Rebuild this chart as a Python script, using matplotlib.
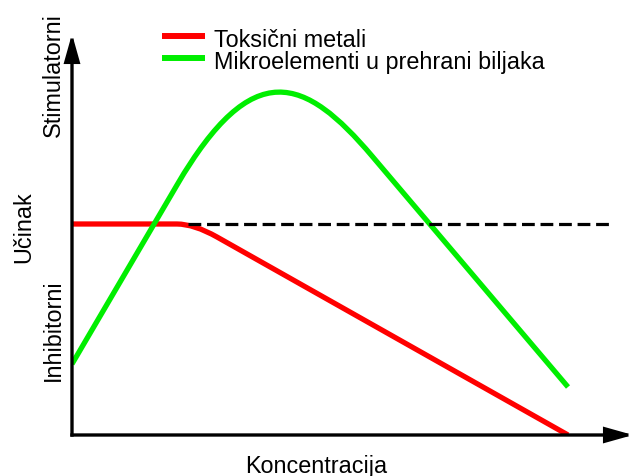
import matplotlib
matplotlib.use("Agg")
import matplotlib.pyplot as plt
from matplotlib.lines import Line2D
from matplotlib.path import Path
from matplotlib.patches import PathPatch

plt.rcParams['font.family'] = ['Liberation Sans', 'DejaVu Sans']

# koncentracija (x) i ucinak (y), ocitano sa slike; cvorovi krivulja
toks_x = [0, 105, 122, 145, 496]
toks_y = [211, 211, 211, 198, 0]
toks_codes = [Path.MOVETO, Path.LINETO, Path.CURVE3, Path.CURVE3, Path.LINETO]

mikro_x = [0, 105, 181, 233, 300, 496]
mikro_y = [71, 250, 380, 358, 279, 48]
mikro_codes = [Path.MOVETO, Path.LINETO, Path.CURVE4, Path.CURVE4, Path.CURVE4, Path.LINETO]

prag_x = [116, 539]
prag_y = [211, 211]

labels = ["Toksični metali", "Mikroelementi u prehrani biljaka"]
colors = ["#ff0000", "#00ee00"]

W, H = 631, 477
fig = plt.figure(figsize=(W / 100, H / 100), dpi=100)
ax = fig.add_axes([72 / W, 41 / H, (W - 72) / W, 436 / H])
ax.set_xlim(0, W - 72)
ax.set_ylim(0, 436)
ax.axis("off")

ax.plot(prag_x, prag_y, color="black", lw=2.3, dashes=(4.0, 1.8), solid_capstyle="butt")
for xs, ys, codes, c in [(toks_x, toks_y, toks_codes, colors[0]),
                         (mikro_x, mikro_y, mikro_codes, colors[1])]:
    p = Path(list(zip(xs, ys)), codes)
    ax.add_patch(PathPatch(p, facecolor="none", edgecolor=c, lw=3.8,
                           capstyle="butt", joinstyle="round"))

# osi sa strelicama
arrow = dict(arrowstyle="-|>,head_length=1.6,head_width=0.45", lw=2.4, color="black",
             shrinkA=0, shrinkB=0, joinstyle="miter", capstyle="projecting")
ax.annotate("", xy=(0, 401), xytext=(0, 0), arrowprops=arrow, annotation_clip=False)
ax.annotate("", xy=(561, 0), xytext=(0, 0), arrowprops=arrow, annotation_clip=False)

# legenda
fs = 16.8
for i, (lab, c) in enumerate(zip(labels, colors)):
    yk = 399 - 22 * i
    ax.add_line(Line2D([90, 133], [yk, yk], color=c, lw=4.3, solid_capstyle="butt", clip_on=False))
    ax.text(142, yk - 10, lab, fontsize=fs, va="baseline", ha="left", clip_on=False)

ax.text(-19, 361, "Stimulatorni", rotation=90, fontsize=fs, ha="center", va="center", clip_on=False)
ax.text(-48, 209, "Učinak", rotation=90, fontsize=fs, ha="center", va="center", clip_on=False)
ax.text(-19, 106, "Inhibitorni", rotation=90, fontsize=fs, ha="center", va="center", clip_on=False)
ax.text(244, -37, "Koncentracija", fontsize=fs, ha="center", va="baseline", clip_on=False)

fig.savefig("out.png", dpi=100)
